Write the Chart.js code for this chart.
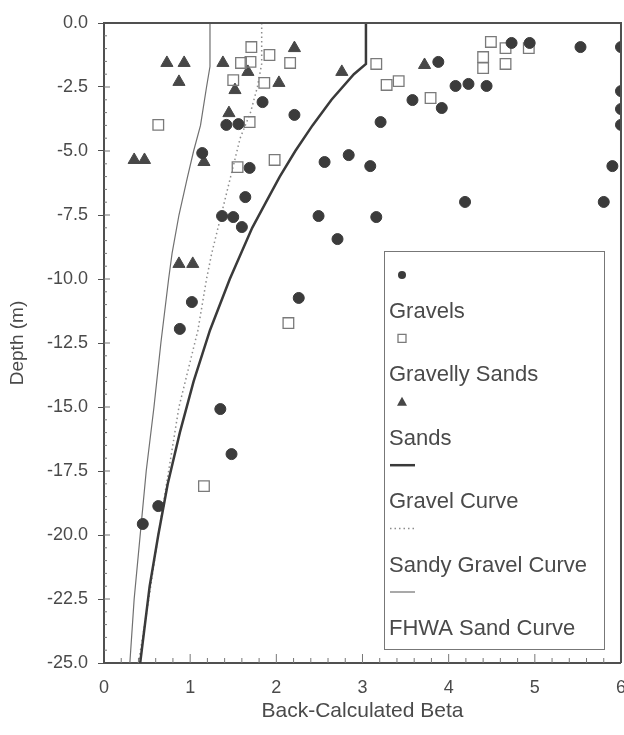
<!DOCTYPE html>
<html lang="en">
<head>
<meta charset="UTF-8">
<title>Back-Calculated Beta vs Depth</title>
<script src="https://cdn.jsdelivr.net/npm/chart.js"></script>
<style>
  html, body { margin: 0; padding: 0; background: #fff; overflow: hidden; }
  #wrap { width: 640px; height: 735px; }
</style>
</head>
<body>
<div id="wrap"><canvas id="betaChart" width="640" height="735"></canvas></div>
<script>
// points: beta (x) and depth in m (y)
const gravelsBeta = [1.84, 2.21, 1.42, 1.56, 1.14, 1.69, 1.64, 1.37, 1.50, 1.60, 2.56, 2.84, 3.09, 2.49, 3.16, 2.71,
  3.21, 3.58, 3.92, 3.88, 4.08, 4.23, 4.44, 4.73, 4.94, 5.53, 6.0, 6.0, 6.0, 6.0, 5.90, 5.80, 4.19,
  2.26, 1.02, 0.88, 1.35, 1.48, 0.63, 0.45];
const gravelsDepth = [-3.09, -3.59, -3.98, -3.95, -5.08, -5.66, -6.80, -7.54, -7.58, -7.97, -5.43, -5.16, -5.59, -7.54, -7.58, -8.44,
  -3.87, -3.01, -3.32, -1.52, -2.46, -2.38, -2.46, -0.78, -0.78, -0.94, -0.94, -2.66, -3.36, -3.98, -5.59, -6.99, -6.99,
  -10.74, -10.90, -11.95, -15.08, -16.84, -18.87, -19.57];

const gravellySandsBeta = [1.71, 1.92, 1.59, 1.70, 2.16, 1.50, 1.86, 1.69, 0.63, 1.55, 1.98, 3.16, 3.28, 3.42, 3.79,
  4.49, 4.66, 4.93, 4.40, 4.40, 4.66, 2.14, 1.16];
const gravellySandsDepth = [-0.94, -1.25, -1.56, -1.52, -1.56, -2.23, -2.34, -3.87, -3.98, -5.63, -5.35, -1.60, -2.42, -2.27, -2.93,
  -0.74, -0.98, -0.98, -1.33, -1.76, -1.60, -11.72, -18.09];

const sandsBeta = [0.73, 0.93, 0.87, 1.38, 2.21, 1.67, 1.52, 2.03, 1.45, 0.35, 0.47, 1.16, 2.76, 3.72, 0.87, 1.03];
const sandsDepth = [-1.56, -1.56, -2.30, -1.56, -0.98, -1.91, -2.62, -2.34, -3.52, -5.35, -5.35, -5.43, -1.91, -1.64, -9.41, -9.41];

const gravelCurveBeta = [3.04, 3.04, 2.90, 2.64, 2.42, 2.22, 2.04, 1.88, 1.72, 1.46, 1.23, 1.04, 0.88, 0.74, 0.63, 0.53, 0.42];
const gravelCurveDepth = [0, -1.6, -2, -3, -4, -5, -6, -7, -8, -10, -12, -14, -16, -18, -20, -22, -25];

const sandyGravelBeta = [1.83, 1.83, 1.78, 1.70, 1.58, 1.47, 1.36, 1.25, 1.19, 1.09, 0.87, 0.75, 0.63, 0.52, 0.40];
const sandyGravelDepth = [0, -1.6, -2.5, -3.5, -4.5, -6, -7.5, -9, -10, -12, -15, -17.5, -20, -22.5, -25];

const fhwaBeta = [1.23, 1.23, 1.19, 1.12, 1.04, 0.97, 0.87, 0.79, 0.75, 0.66, 0.58, 0.49, 0.42, 0.35, 0.30];
const fhwaDepth = [0, -1.7, -2.5, -4, -5, -6, -7.5, -9, -10, -12.5, -15, -17.5, -20, -22.5, -25];

const xTicks = [0, 1, 2, 3, 4, 5, 6];
const yTicks = [0, -2.5, -5, -7.5, -10, -12.5, -15, -17.5, -20, -22.5, -25];

const pts = (xs, ys) => xs.map((x, i) => ({ x: x, y: ys[i] }));

const textColor = '#4a4a4a';
const axisColor = '#505050';

// frame, little tick marks inside the box, and the stacked legend
const decor = {
  id: 'decor',
  afterDatasetsDraw(chart) {
    const { ctx, chartArea: a, scales } = chart;
    ctx.save();
    ctx.strokeStyle = axisColor;
    ctx.lineWidth = 2;
    ctx.beginPath();
    ctx.moveTo(a.left, a.top); ctx.lineTo(a.right, a.top); ctx.lineTo(a.right, a.bottom);
    ctx.stroke();

    ctx.lineWidth = 1;
    ctx.strokeStyle = '#777';
    for (let i = 1; i < 30; i++) {
      const px = scales.x.getPixelForValue(i / 5);
      const len = i % 5 === 0 ? 9 : 5;
      ctx.beginPath(); ctx.moveTo(px, a.bottom); ctx.lineTo(px, a.bottom - len); ctx.stroke();
    }
    for (let i = 1; i < 50; i++) {
      const py = scales.y.getPixelForValue(-i / 2);
      const len = i % 5 === 0 ? 6 : 3;
      ctx.beginPath(); ctx.moveTo(a.left, py); ctx.lineTo(a.left + len, py); ctx.stroke();
    }
    ctx.restore();
  },
  afterDraw(chart) {
    const ctx = chart.ctx;
    const bx = 384, by = 251, bw = 220, bh = 398;
    ctx.save();
    ctx.fillStyle = '#fff';
    ctx.fillRect(bx, by, bw, bh);
    ctx.strokeStyle = '#777';
    ctx.lineWidth = 1;
    ctx.strokeRect(bx + 0.5, by + 0.5, bw, bh);
    chart.data.datasets.forEach((ds, i) => {
      const my = 275 + i * 63.4;
      const ty = 318 + i * 63.4;
      if (ds.showLine) {
        ctx.strokeStyle = ds.borderColor;
        ctx.lineWidth = ds.borderWidth;
        ctx.setLineDash(ds.borderDash || []);
        ctx.beginPath(); ctx.moveTo(390, my); ctx.lineTo(415, my); ctx.stroke();
        ctx.setLineDash([]);
      } else {
        ctx.fillStyle = ds.pointBackgroundColor;
        ctx.strokeStyle = ds.pointBorderColor;
        ctx.lineWidth = ds.pointBorderWidth;
        ctx.beginPath();
        if (ds.pointStyle === 'circle') {
          ctx.arc(402, my, 4, 0, Math.PI * 2); ctx.fill();
        } else if (ds.pointStyle === 'rect') {
          ctx.rect(398, my - 4, 8, 8); ctx.stroke();
        } else {
          ctx.moveTo(402, my - 5); ctx.lineTo(407, my + 4); ctx.lineTo(397, my + 4); ctx.closePath(); ctx.fill();
        }
      }
      ctx.fillStyle = textColor;
      ctx.font = '22px "Liberation Sans", Arial, sans-serif';
      ctx.textAlign = 'left';
      ctx.textBaseline = 'alphabetic';
      ctx.fillText(ds.label, 389, ty);
    });
    ctx.restore();
  }
};

new Chart(document.getElementById('betaChart'), {
  type: 'scatter',
  data: {
    datasets: [
      {
        label: 'Gravels',
        data: pts(gravelsBeta, gravelsDepth),
        pointStyle: 'circle',
        pointRadius: 5.5,
        pointBackgroundColor: '#3b3b3b',
        pointBorderColor: '#3b3b3b',
        pointBorderWidth: 1,
        clip: 0
      },
      {
        label: 'Gravelly Sands',
        data: pts(gravellySandsBeta, gravellySandsDepth),
        pointStyle: 'rect',
        pointRadius: 7.5,
        pointBackgroundColor: 'rgba(255,255,255,0)',
        pointBorderColor: '#7a7a7a',
        pointBorderWidth: 1.3
      },
      {
        label: 'Sands',
        data: pts(sandsBeta, sandsDepth),
        pointStyle: 'triangle',
        pointRadius: 7,
        pointBackgroundColor: '#474747',
        pointBorderColor: '#474747',
        pointBorderWidth: 1
      },
      {
        label: 'Gravel Curve',
        data: pts(gravelCurveBeta, gravelCurveDepth),
        showLine: true,
        borderColor: '#3a3a3a',
        borderWidth: 2.5,
        pointRadius: 0
      },
      {
        label: 'Sandy Gravel Curve',
        data: pts(sandyGravelBeta, sandyGravelDepth),
        showLine: true,
        borderColor: '#8c8c8c',
        borderWidth: 1.5,
        borderDash: [1.5, 3],
        pointRadius: 0
      },
      {
        label: 'FHWA Sand Curve',
        data: pts(fhwaBeta, fhwaDepth),
        showLine: true,
        borderColor: '#707070',
        borderWidth: 1.2,
        pointRadius: 0
      }
    ]
  },
  options: {
    responsive: false,
    animation: false,
    layout: { padding: { top: 23, right: 19, left: 0, bottom: 0 } },
    plugins: {
      legend: { display: false },
      tooltip: { enabled: false }
    },
    scales: {
      x: {
        min: 0, max: 6,
        afterBuildTicks: s => { s.ticks = xTicks.map(v => ({ value: v })); },
        afterFit: s => { s.height = 72; },
        ticks: { color: textColor, font: { size: 18, family: '"Liberation Sans", Arial' }, padding: 14 },
        grid: { drawOnChartArea: false, drawTicks: false },
        border: { color: axisColor, width: 2 },
        title: {
          display: true, text: 'Back-Calculated Beta', color: textColor,
          font: { size: 21, family: '"Liberation Sans", Arial' }, padding: { top: 0, bottom: 11 }
        }
      },
      y: {
        min: -25, max: 0,
        afterBuildTicks: s => { s.ticks = yTicks.map(v => ({ value: v })); },
        afterFit: s => { s.width = 104; },
        ticks: {
          color: textColor, font: { size: 18, family: '"Liberation Sans", Arial' }, padding: 10,
          callback: v => v.toFixed(1)
        },
        grid: { drawOnChartArea: false, tickLength: 6, color: axisColor },
        border: { color: axisColor, width: 2 },
        title: {
          display: true, text: 'Depth (m)', color: textColor,
          font: { size: 19, family: '"Liberation Sans", Arial' }, padding: { top: 6, bottom: 0 }
        }
      }
    }
  },
  plugins: [decor]
});
</script>
</body>
</html>
